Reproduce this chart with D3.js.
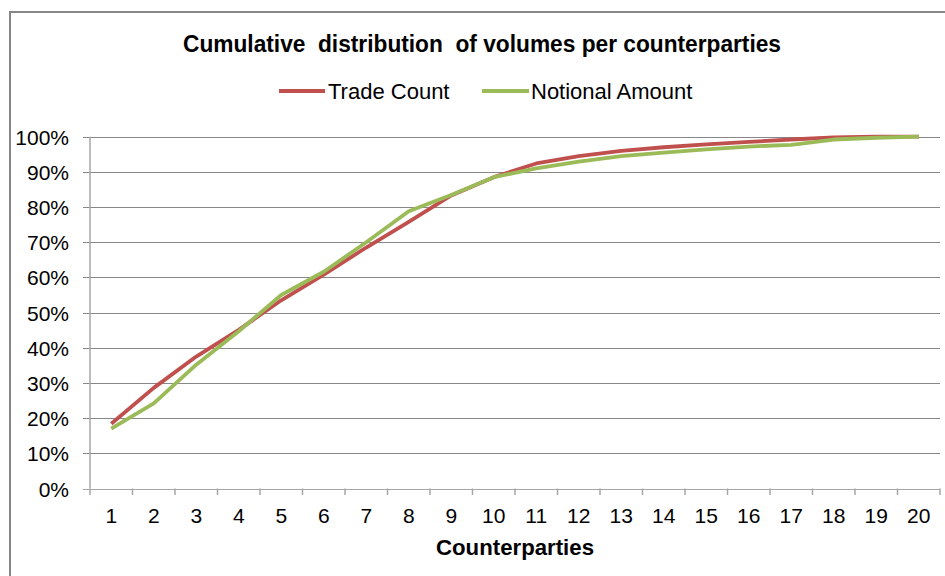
<!DOCTYPE html>
<html>
<head>
<meta charset="utf-8">
<script src="https://cdn.jsdelivr.net/npm/d3@7"></script>
<style>
  html, body { margin: 0; padding: 0; background: #fff; }
  svg { display: block; font-family: "Liberation Sans", Arial, sans-serif; }
</style>
</head>
<body>
<svg id="chart" width="945" height="576"></svg>
<script>
const categories = [1,2,3,4,5,6,7,8,9,10,11,12,13,14,15,16,17,18,19,20];
const tradeCount = [18.4, 28.6, 37.5, 45.1, 53.5, 60.8, 68.5, 75.8, 83.3, 88.5, 92.4, 94.5, 96.0, 97.0, 97.8, 98.5, 99.2, 99.8, 100, 100];
const notionalAmount = [17.0, 24.2, 35.2, 44.7, 55.0, 61.6, 70.0, 78.8, 83.4, 88.5, 91.0, 92.9, 94.5, 95.5, 96.4, 97.2, 97.7, 99.2, 99.7, 100];
const yTicks = [0,10,20,30,40,50,60,70,80,90,100];
const seriesNames = ["Trade Count", "Notional Amount"];
const seriesColors = ["#C0504D", "#9BBB59"];
const titleText = "Cumulative  distribution  of volumes per counterparties";
const xTitle = "Counterparties";

(function () {
const svg = d3.select("#chart");

// outer border
svg.append("rect").attr("x", 10).attr("y", 12).attr("width", 945).attr("height", 580)
  .attr("fill", "#fff").attr("stroke", "#868686").attr("stroke-width", 2);

const pLeft = 90, pRight = 940, pTop = 136.7, pBottom = 488.5;
const x = d3.scaleBand().domain(categories).range([pLeft, pRight]);
const y = d3.scaleLinear().domain([0, 100]).range([pBottom, pTop]);

// gridlines + y tick marks
const yAxis = d3.axisLeft(y).tickValues(yTicks).tickFormat(d => d + "%").tickSize(pRight - pLeft + 7).tickSizeOuter(0);
const gy = svg.append("g").attr("transform", `translate(${pRight},0)`).call(yAxis);
gy.select(".domain").remove();
gy.selectAll(".tick line").attr("stroke", "#878787").attr("stroke-width", 1)
  .attr("shape-rendering", "crispEdges");
gy.selectAll(".tick line").filter(d => d === 0).attr("stroke", "#a6a6a6");
gy.selectAll(".tick text").attr("x", -(pRight - 69)).attr("dy", "0.36em")
  .attr("font-size", 21).attr("fill", "#000").attr("font-family", "Liberation Sans, Arial, sans-serif");

// y axis line
svg.append("line").attr("x1", pLeft).attr("x2", pLeft).attr("y1", pTop).attr("y2", pBottom)
  .attr("stroke", "#a6a6a6").attr("stroke-width", 1.5);

// x axis ticks between categories
const tickPos = categories.map(c => x(c)).concat([x(categories[categories.length - 1]) + x.bandwidth()]);
svg.append("g").selectAll("line").data(tickPos).join("line")
  .attr("x1", d => d).attr("x2", d => d).attr("y1", pBottom).attr("y2", pBottom + 6.5)
  .attr("stroke", "#a6a6a6").attr("stroke-width", 1.5);

// x labels
svg.append("g").selectAll("text").data(categories).join("text")
  .attr("x", d => x(d) + x.bandwidth() / 2).attr("y", 523)
  .attr("text-anchor", "middle").attr("font-size", 21).attr("fill", "#000")
  .text(d => d);

// lines
const line = d3.line().x((d, i) => x(categories[i]) + x.bandwidth() / 2).y(d => y(d));
[tradeCount, notionalAmount].forEach((s, k) => {
  svg.append("path").datum(s).attr("d", line).attr("fill", "none")
    .attr("stroke", seriesColors[k]).attr("stroke-width", 3.8)
    .attr("stroke-linejoin", "round").attr("stroke-linecap", "butt");
});

// title
svg.append("text").attr("x", 482).attr("y", 52).attr("text-anchor", "middle")
  .attr("font-size", 23).attr("font-weight", "bold").style("white-space", "pre")
  .attr("textLength", 598).attr("lengthAdjust", "spacingAndGlyphs")
  .text(titleText);

// legend
const legend = [
  { x1: 279, x2: 325, tx: 328 },
  { x1: 482, x2: 529, tx: 531 }
];
legend.forEach((l, k) => {
  svg.append("line").attr("x1", l.x1).attr("x2", l.x2).attr("y1", 91).attr("y2", 91)
    .attr("stroke", seriesColors[k]).attr("stroke-width", 3.8);
  svg.append("text").attr("x", l.tx).attr("y", 98.5).attr("font-size", 22).attr("fill", "#000")
    .text(seriesNames[k]);
});

// x axis title
svg.append("text").attr("x", 515).attr("y", 555).attr("text-anchor", "middle")
  .attr("font-size", 21.5).attr("font-weight", "bold")
  .attr("textLength", 158).attr("lengthAdjust", "spacingAndGlyphs").text(xTitle);
})();
</script>
</body>
</html>
